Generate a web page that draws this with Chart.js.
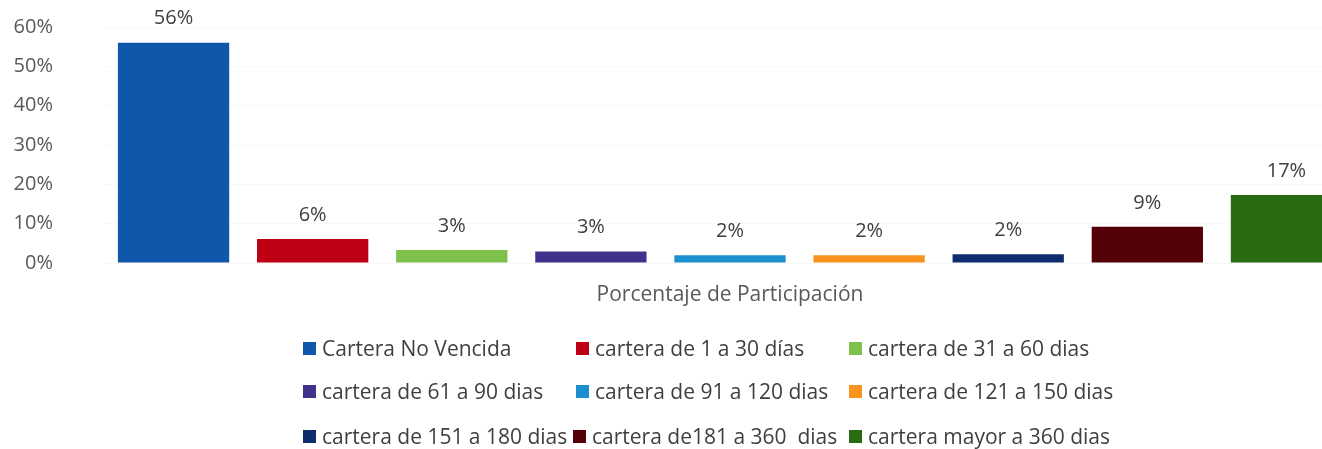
<!DOCTYPE html>
<html>
<head>
<meta charset="utf-8">
<script src="https://cdn.jsdelivr.net/npm/chart.js@4/dist/chart.umd.min.js"></script>
<style>
  html, body { margin: 0; padding: 0; background: #ffffff; }
  #stage { position: relative; width: 1322px; height: 449px; overflow: hidden; background: #ffffff; }
  #chartBox { position: absolute; left: 0; top: 0; width: 1356px; height: 320px; }
  #legend { position: absolute; left: 0; top: 0; width: 1322px; height: 449px; pointer-events: none;
            font-family: "Open Sans", sans-serif; font-size: 21px; color: #3f3f3f; }
  .lg-item { position: absolute; white-space: pre; display: flex; align-items: center; height: 30px; }
  .lg-box { width: 13px; height: 13px; margin-right: 6px; flex: none; }
</style>
</head>
<body>
<div id="stage">
  <div id="chartBox"><canvas id="c" width="1356" height="320"></canvas></div>
  <div id="legend"></div>
</div>
<script>
// ---- data ----
const categories = ["Porcentaje de Participación"];
const seriesNames = [
  "Cartera No Vencida",
  "cartera de 1 a 30 días",
  "cartera de 31 a 60 dias",
  "cartera de 61 a 90 dias",
  "cartera de 91 a 120 dias",
  "cartera de 121 a 150 dias",
  "cartera de 151 a 180 dias",
  "cartera de181 a 360  dias",
  "cartera mayor a 360 dias"
];
const seriesValues = [56, 6.1, 3.3, 2.9, 2.0, 2.0, 2.2, 9.2, 17.3];
const seriesLabels = ["56%", "6%", "3%", "3%", "2%", "2%", "2%", "9%", "17%"];
const seriesColors = ["#0F57AA", "#BF0014", "#7DC04B", "#3F318C", "#1B90CE", "#F7931E", "#0E2C6E", "#530008", "#286B12"];
const yTicks = [0, 10, 20, 30, 40, 50, 60];

// ---- chart ----
const FONT = "'Open Sans', sans-serif";

const datasets = seriesNames.map((name, i) => ({
  label: name,
  data: [seriesValues[i]],
  backgroundColor: seriesColors[i],
  borderWidth: 0
}));

const barLabels = {
  id: 'barLabels',
  afterDatasetsDraw(chart) {
    const ctx = chart.ctx;
    ctx.save();
    ctx.font = "20px " + FONT;
    ctx.fillStyle = "#404040";
    ctx.textAlign = "center";
    ctx.textBaseline = "middle";
    chart.data.datasets.forEach((ds, i) => {
      const meta = chart.getDatasetMeta(i);
      meta.data.forEach((el) => {
        ctx.fillText(seriesLabels[i], el.x, el.y - 24);
      });
    });
    ctx.restore();
  }
};

new Chart(document.getElementById('c'), {
  type: 'bar',
  data: { labels: categories, datasets: datasets },
  options: {
    responsive: false,
    animation: false,
    devicePixelRatio: 1,
    layout: { padding: { top: 27, left: 0, right: 0, bottom: 0 } },
    datasets: { bar: { barPercentage: 0.8, categoryPercentage: 1.0 } },
    plugins: {
      legend: { display: false },
      tooltip: { enabled: false },
      title: { display: false }
    },
    scales: {
      x: {
        grid: { display: false, drawTicks: false },
        border: { display: false },
        ticks: { color: "#595959", font: { family: FONT, size: 21 }, padding: 19, maxRotation: 0 },
        afterFit(axis) {
          axis.height = 57;
          axis.paddingLeft = 0; axis.paddingRight = 0;
        }
      },
      y: {
        min: 0,
        max: 60,
        afterBuildTicks(axis) { axis.ticks = yTicks.map(v => ({ value: v })); },
        grid: { color: "rgba(0,0,0,0.025)", drawTicks: false },
        border: { display: false },
        ticks: {
          color: "#595959",
          font: { family: FONT, size: 20 },
          padding: 51,
          callback: (v) => v + "%"
        },
        afterFit(axis) {
          axis.width = 104;
          axis.paddingTop = 0; axis.paddingBottom = 0;
        }
      }
    }
  },
  plugins: [barLabels]
});

// ---- legend (3 columns x 3 rows) ----
const colX = [303, 576, 849];
const rowY = [333, 376, 421];
const legend = document.getElementById('legend');
seriesNames.forEach((name, i) => {
  const r = Math.floor(i / 3), c = i % 3;
  const item = document.createElement('div');
  item.className = 'lg-item';
  let x = colX[c];
  if (r === 2 && c === 1) x -= 3;
  item.style.left = x + 'px';
  item.style.top = rowY[r] + 'px';
  const box = document.createElement('span');
  box.className = 'lg-box';
  box.style.background = seriesColors[i];
  const txt = document.createElement('span');
  txt.textContent = name;
  item.appendChild(box);
  item.appendChild(txt);
  legend.appendChild(item);
});
</script>
</body>
</html>
